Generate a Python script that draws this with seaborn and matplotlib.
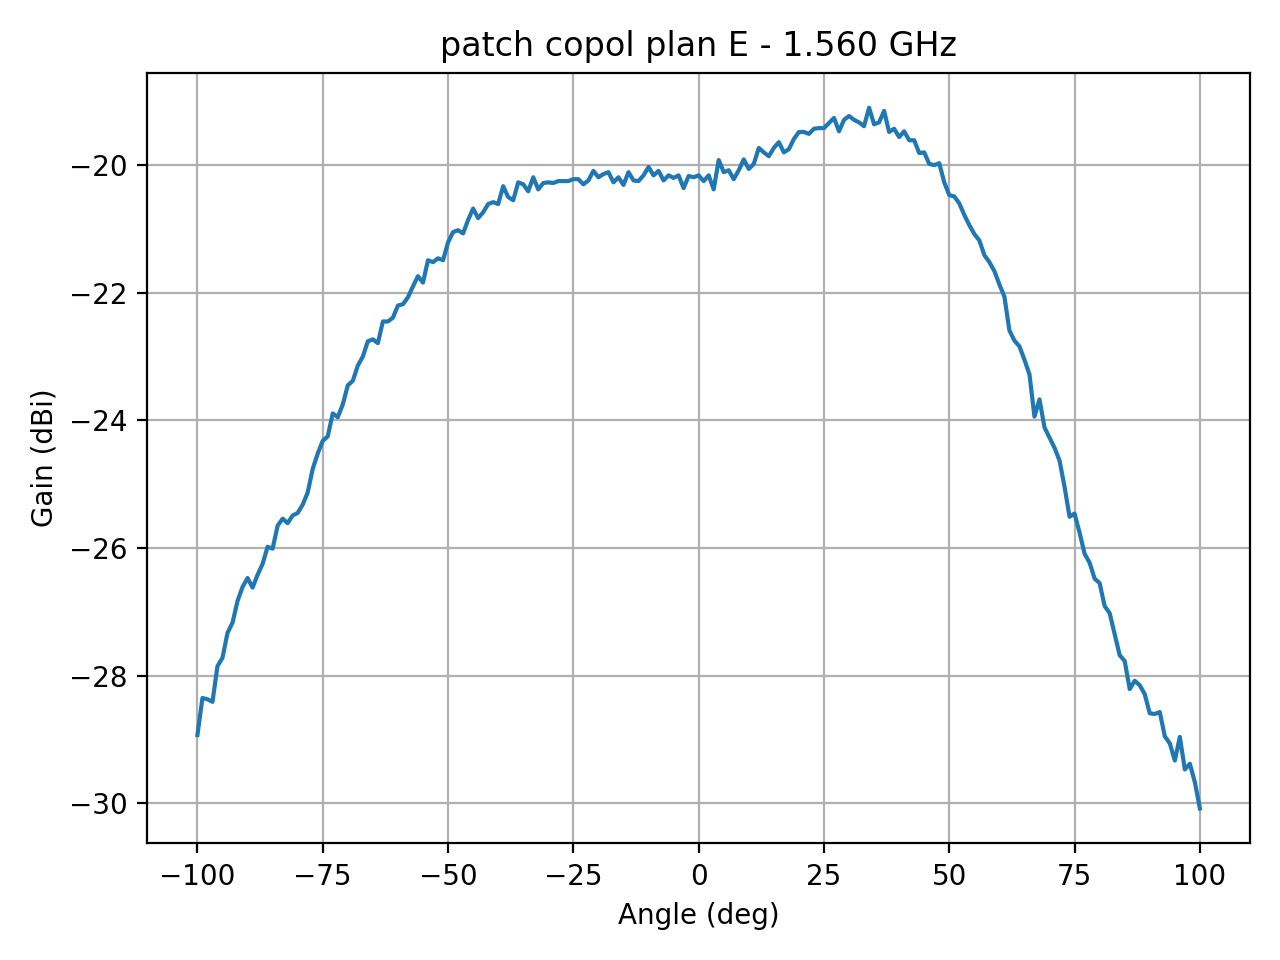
import numpy as np
import pandas as pd
import matplotlib
matplotlib.use("Agg")
import matplotlib.pyplot as plt
import seaborn as sns

angles = list(range(-100, 101))
gain = [
    -28.93, -28.35, -28.37, -28.41, -27.85, -27.72, -27.33, -27.17, -26.83, -26.61,
    -26.47, -26.62, -26.42, -26.25, -25.98, -26.01, -25.65, -25.54, -25.61, -25.49,
    -25.45, -25.32, -25.13, -24.76, -24.52, -24.32, -24.25, -23.89, -23.95, -23.75,
    -23.45, -23.38, -23.14, -23.00, -22.76, -22.73, -22.79, -22.45, -22.45, -22.39,
    -22.20, -22.18, -22.07, -21.90, -21.74, -21.84, -21.49, -21.52, -21.46, -21.49,
    -21.21, -21.05, -21.02, -21.07, -20.86, -20.68, -20.83, -20.74, -20.61, -20.58,
    -20.61, -20.33, -20.50, -20.55, -20.27, -20.30, -20.41, -20.19, -20.38, -20.28,
    -20.27, -20.28, -20.25, -20.25, -20.25, -20.22, -20.22, -20.30, -20.24, -20.09,
    -20.19, -20.14, -20.11, -20.27, -20.19, -20.31, -20.11, -20.24, -20.25, -20.16,
    -20.03, -20.16, -20.09, -20.24, -20.16, -20.20, -20.16, -20.36, -20.17, -20.19,
    -20.16, -20.25, -20.16, -20.38, -19.92, -20.11, -20.08, -20.22, -20.08, -19.91,
    -20.06, -19.98, -19.73, -19.80, -19.86, -19.73, -19.64, -19.80, -19.75, -19.59,
    -19.48, -19.48, -19.51, -19.43, -19.42, -19.42, -19.34, -19.26, -19.47, -19.29,
    -19.23, -19.29, -19.33, -19.39, -19.10, -19.36, -19.33, -19.15, -19.48, -19.43,
    -19.56, -19.47, -19.61, -19.61, -19.81, -19.80, -19.98, -20.00, -19.97, -20.27,
    -20.47, -20.49, -20.60, -20.78, -20.94, -21.08, -21.18, -21.41, -21.52, -21.66,
    -21.87, -22.06, -22.59, -22.75, -22.84, -23.05, -23.28, -23.94, -23.67, -24.11,
    -24.27, -24.43, -24.63, -25.04, -25.51, -25.46, -25.76, -26.09, -26.23, -26.48,
    -26.55, -26.91, -27.02, -27.35, -27.68, -27.77, -28.21, -28.08, -28.15, -28.29,
    -28.59, -28.60, -28.57, -28.95, -29.06, -29.33, -28.96, -29.47, -29.38, -29.67,
    -30.08,
]

df = pd.DataFrame({"Angle": angles, "Gain": gain})

fig, ax = plt.subplots(figsize=(6.4, 4.8), dpi=200)
sns.lineplot(data=df, x="Angle", y="Gain", ax=ax, color="#1f77b4", linewidth=1.5)
ax.grid(True)
ax.set_xlabel("Angle (deg)")
ax.set_ylabel("Gain (dBi)")
ax.set_title("patch copol plan E - 1.560 GHz")
fig.tight_layout()
fig.savefig("out.png", dpi=200)
